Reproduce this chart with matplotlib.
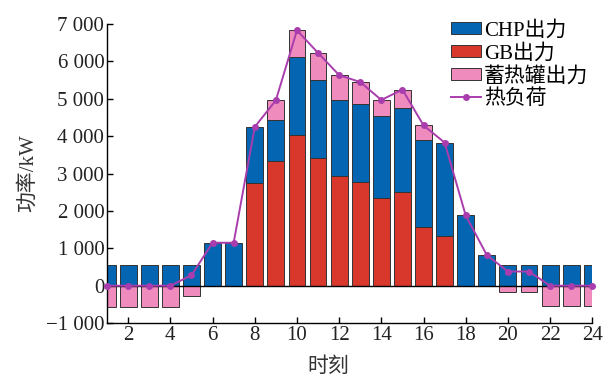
import numpy as np
import matplotlib
matplotlib.use("Agg")
import matplotlib.pyplot as plt
from matplotlib.ticker import FuncFormatter

plt.rcParams['font.family'] = ['Liberation Serif', 'Noto Sans CJK SC']
plt.rcParams['axes.unicode_minus'] = True

# 时段与各设备出力 (kW)
hours = np.arange(1, 25)
chp = [560, 560, 560, 560, 560, 1150, 1150, 1500, 1085, 2070, 2070, 2045,
       2085, 2185, 2250, 2310, 2505, 1880, 820, 560, 560, 560, 560, 560]
gb = [0, 0, 0, 0, 0, 0, 0, 2750, 3350, 4045, 3430, 2925,
      2765, 2355, 2500, 1580, 1325, 0, 0, 0, 0, 0, 0, 0]
storage = [-560, -560, -560, -560, -280, 0, 0, 0, 525, 720, 730, 665,
           600, 430, 500, 400, 0, 0, 0, -180, -180, -550, -550, -550]
load = [0, 0, 0, 0, 280, 1150, 1150, 4250, 4960, 6835, 6230, 5635,
        5450, 4970, 5250, 4290, 3830, 1880, 820, 380, 380, 0, 0, 0]
xticks = list(range(2, 25, 2))
yticks = list(range(-1000, 7001, 1000))

c_chp = '#0466B2'
c_gb = '#D8382B'
c_st = '#F08BBE'
c_load = '#A93DAD'

chp = np.array(chp)
gb = np.array(gb)
storage = np.array(storage)
st_bottom = np.where(storage > 0, gb + chp, 0)

fig = plt.figure(figsize=(6.05, 3.77), dpi=100)
ax = fig.add_axes([0.177, 0.143, 0.802, 0.793])

w = 0.8
ec = '#333333'
b1 = ax.bar(hours, chp, w, bottom=gb, color=c_chp, edgecolor=ec, linewidth=0.7, label='CHP出力', zorder=2)
b2 = ax.bar(hours, gb, w, color=c_gb, edgecolor=ec, linewidth=0.7, label='GB出力', zorder=2)
b3 = ax.bar(hours, storage, w, bottom=st_bottom, color=c_st, edgecolor=ec, linewidth=0.7, label='蓄热罐出力', zorder=2)
ax.axhline(0, color='black', linewidth=1.0, zorder=3)
l1, = ax.plot(hours, load, color=c_load, linewidth=1.4, marker='o', markersize=4, label='热负荷', zorder=4, clip_on=False)

ax.set_xlim(1, 24)
ax.set_ylim(-1000, 7000)
ax.set_xticks(xticks)
ax.set_yticks(yticks)

def fmt(v, pos):
    s = f"{abs(int(v)):,}".replace(',', ' ')
    return ('\u2212' + s) if v < 0 else s

ax.yaxis.set_major_formatter(FuncFormatter(fmt))
ax.tick_params(direction='in', length=4, width=1, labelsize=15, pad=2, labelcolor='#222222')
for sp in ['top', 'right']:
    ax.spines[sp].set_visible(False)
ax.spines['left'].set_linewidth(1)
ax.spines['bottom'].set_linewidth(1)

ax.set_ylabel('功率/kW', fontsize=15, color='#333333', labelpad=6)
ax.set_xlabel('时刻', fontsize=15, color='#333333')
ax.xaxis.set_label_coords(0.456, -0.115)

ax.legend([b1, b2, b3, l1], ['CHP出力', 'GB出力', '蓄热罐出力', '热负荷'],
          loc='upper left', bbox_to_anchor=(0.745, 0.945), bbox_transform=fig.transFigure,
          frameon=False, fontsize=15, handlelength=1.45, handleheight=0.55,
          handletextpad=0.15, labelspacing=0.15, borderpad=0, borderaxespad=0)

fig.savefig('out.png', dpi=100)
